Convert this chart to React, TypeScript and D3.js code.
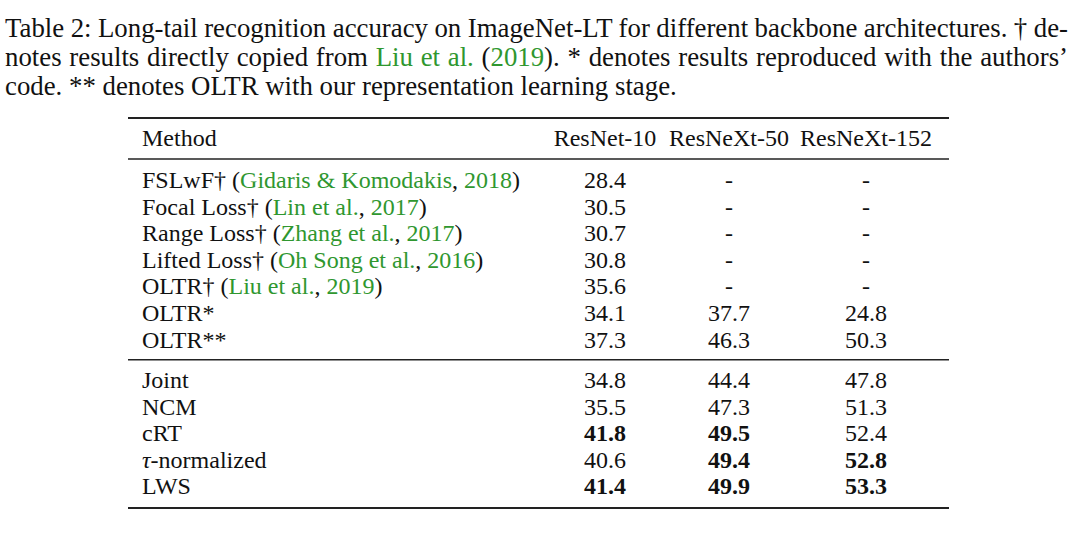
import React, { useEffect, useRef } from "react";
import * as d3 from "d3";

// caption text, split into black / green (citation) pieces
const captionLine1 = [
  ["Table 2: Long-tail recognition accuracy on ImageNet-LT for different backbone architectures. † de-", "k"],
];
const captionLine2 = [
  ["notes results directly copied from ", "k"],
  ["Liu et al.", "g"],
  [" (", "k"],
  ["2019", "g"],
  ["). * denotes results reproduced with the authors’", "k"],
];
const captionLine3 = [["code. ** denotes OLTR with our representation learning stage.", "k"]];

const columns = ["ResNet-10", "ResNeXt-50", "ResNeXt-152"];

const methods = [
  "FSLwF†", "Focal Loss†", "Range Loss†", "Lifted Loss†", "OLTR†", "OLTR*", "OLTR**",
  "Joint", "NCM", "cRT", "τ-normalized", "LWS",
];
const citeAuthors = ["Gidaris & Komodakis", "Lin et al.", "Zhang et al.", "Oh Song et al.", "Liu et al.", null, null, null, null, null, null, null];
const citeYears = ["2018", "2017", "2017", "2016", "2019", null, null, null, null, null, null, null];
const groups = [0, 0, 0, 0, 0, 0, 0, 1, 1, 1, 1, 1];

const resnet10 = [28.4, 30.5, 30.7, 30.8, 35.6, 34.1, 37.3, 34.8, 35.5, 41.8, 40.6, 41.4];
const resnext50 = [null, null, null, null, null, 37.7, 46.3, 44.4, 47.3, 49.5, 49.4, 49.9];
const resnext152 = [null, null, null, null, null, 24.8, 50.3, 47.8, 51.3, 52.4, 52.8, 53.3];

const bold10 = [false, false, false, false, false, false, false, false, false, true, false, true];
const bold50 = [false, false, false, false, false, false, false, false, false, true, true, true];
const bold152 = [false, false, false, false, false, false, false, false, false, false, true, true];

const App = () => {
  const ref = useRef(null);

  useEffect(() => {
    document.body.style.margin = "0";
    const width = 1080,
      height = 542;
    const green = "#2f972f";
    const font = "'Liberation Serif', 'Times New Roman', serif";
    const fs = 24;
    const capFs = 26.8;

    const svg = d3.select(ref.current).attr("width", width).attr("height", height);
    svg.selectAll("*").remove();
    svg.append("rect").attr("width", width).attr("height", height).attr("fill", "white");

    // caption
    const capY = d3.scaleLinear().domain([0, 1]).range([37, 66]);
    const capLines = [captionLine1, captionLine2, captionLine3];
    const justify = [true, true, false];
    capLines.forEach((line, i) => {
      const t = svg
        .append("text")
        .attr("x", 5)
        .attr("y", capY(i))
        .style("font-family", font)
        .style("font-size", capFs + "px");
      line.forEach((seg) => {
        t.append("tspan")
          .attr("fill", seg[1] === "g" ? green : "#111")
          .text(seg[0]);
      });
      if (justify[i]) {
        const natural = t.node().getComputedTextLength();
        const spaces = line.map((s) => s[0]).join("").split(" ").length - 1;
        const extra = (1068 - 5 - natural) / spaces;
        t.style("word-spacing", extra + "px");
      }
    });

    // table
    const left = 128,
      right = 949;
    const x = d3.scaleOrdinal().domain(columns).range([605, 729, 866]);
    const rowStep = 26.6;
    const groupGap = 13.8;
    const y = (i) => 180 + i * rowStep + groups[i] * groupGap;

    const rule = (yy, w) =>
      svg
        .append("line")
        .attr("x1", left)
        .attr("x2", right)
        .attr("y1", yy)
        .attr("y2", yy)
        .attr("stroke", "#222")
        .attr("stroke-width", w);
    rule(118, 2);
    rule(159, 1.4);
    rule((y(6) + y(7)) / 2, 1.4);
    rule(508, 2);

    const base = 8; // baseline offset from row centre

    svg
      .append("text")
      .attr("x", 142)
      .attr("y", 138 + base)
      .style("font-family", font)
      .style("font-size", fs + "px")
      .attr("fill", "#111")
      .text("Method");

    svg
      .selectAll("text.colhead")
      .data(columns)
      .join("text")
      .attr("class", "colhead")
      .attr("x", (d) => x(d))
      .attr("y", 138 + base)
      .attr("text-anchor", "middle")
      .style("font-family", font)
      .style("font-size", fs + "px")
      .attr("fill", "#111")
      .text((d) => d);

    methods.forEach((m, i) => {
      const t = svg
        .append("text")
        .attr("x", 142)
        .attr("y", y(i) + base)
        .style("font-family", font)
        .style("font-size", fs + "px")
        .attr("fill", "#111");
      if (m.startsWith("τ")) {
        t.append("tspan").style("font-style", "italic").text("τ");
        t.append("tspan").text(m.slice(1));
      } else {
        t.append("tspan").text(m);
      }
      if (citeAuthors[i]) {
        t.append("tspan").text(" (");
        t.append("tspan").attr("fill", green).text(citeAuthors[i]);
        t.append("tspan").text(", ");
        t.append("tspan").attr("fill", green).text(citeYears[i]);
        t.append("tspan").text(")");
      }
    });

    const fmt = d3.format(".1f");
    const series = [
      [resnet10, bold10],
      [resnext50, bold50],
      [resnext152, bold152],
    ];
    series.forEach(([vals, bolds], c) => {
      svg
        .selectAll("text.val" + c)
        .data(vals)
        .join("text")
        .attr("class", "val" + c)
        .attr("x", x(columns[c]))
        .attr("y", (d, i) => y(i) + base)
        .attr("text-anchor", "middle")
        .style("font-family", font)
        .style("font-size", fs + "px")
        .style("font-weight", (d, i) => (bolds[i] ? "bold" : "normal"))
        .attr("fill", "#111")
        .text((d) => (d == null ? "-" : fmt(d)));
    });
  }, []);

  return <svg ref={ref} style={{ display: "block" }}></svg>;
};

export default App;
